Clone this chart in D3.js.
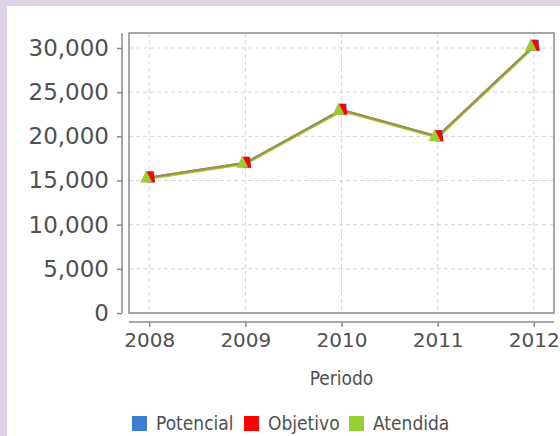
<!DOCTYPE html>
<html><head><meta charset="utf-8">
<script src="https://cdn.jsdelivr.net/npm/d3@7"></script>
<style>
html,body{margin:0;padding:0;background:#dcd3e6;}
svg{display:block;}
</style></head>
<body>
<svg id="chart" width="560" height="436"></svg>
<script>
const categories = ["2008", "2009", "2010", "2011", "2012"];
const potencial = [15350, 17000, 23000, 20000, 30250];
const objetivo  = [15350, 17000, 23000, 20000, 30250];
const atendida  = [15350, 17000, 23000, 20000, 30250];
const yTicks = [0, 5000, 10000, 15000, 20000, 25000, 30000];
const seriesNames = ["Potencial", "Objetivo", "Atendida"];
const seriesColors = ["#3d7ed3", "#ff0000", "#9acd32"];
const xTitle = "Periodo";

const svg = d3.select("#chart");
svg.append("rect").attr("x", 7).attr("y", 6).attr("width", 560).attr("height", 440).attr("fill", "#fff");

const L = 129, R = 554, T = 33, B = 313;
const x = d3.scalePoint().domain(categories).range([L, R]).padding(0.21);
const y = d3.scaleLinear().domain([0, 31700]).range([B, T]);

// grid
const g = svg.append("g");
g.selectAll("line.hg").data(yTicks).join("line")
  .attr("x1", L).attr("x2", R).attr("y1", d => y(d)).attr("y2", d => y(d))
  .attr("stroke", "#d4d4d4").attr("stroke-width", 1).attr("stroke-dasharray", "4,3");
g.selectAll("line.vg").data(categories).join("line")
  .attr("y1", T).attr("y2", B).attr("x1", d => x(d)).attr("x2", d => x(d))
  .attr("stroke", "#d4d4d4").attr("stroke-width", 1).attr("stroke-dasharray", "4,3");

// plot border
svg.append("rect").attr("x", L).attr("y", T).attr("width", R - L).attr("height", B - T)
  .attr("fill", "none").attr("stroke", "#8a8a8a").attr("stroke-width", 1.5);

// y axis
const yAxis = d3.axisLeft(y).tickValues(yTicks).tickSize(5).tickPadding(8)
  .tickFormat(d3.format(","));
const ya = svg.append("g").attr("transform", "translate(122,0)").call(yAxis);
ya.select(".domain").attr("d", `M0,${T}V${B}`).attr("stroke", "#8a8a8a").attr("stroke-width", 1.5);
ya.selectAll(".tick line").attr("stroke", "#8a8a8a").attr("stroke-width", 1.5);
ya.selectAll("text").attr("font-family", "DejaVu Sans").attr("font-size", 23).attr("fill", "#505050");

// x axis
const xAxis = d3.axisBottom(x).tickSize(5).tickPadding(6);
const xa = svg.append("g").attr("transform", "translate(0,322)").call(xAxis);
xa.select(".domain").attr("d", `M${L},0H${R}`).attr("stroke", "#8a8a8a").attr("stroke-width", 1.5);
xa.selectAll(".tick line").attr("stroke", "#8a8a8a").attr("stroke-width", 1.5);
xa.selectAll("text").attr("font-family", "DejaVu Sans").attr("font-size", 20).attr("fill", "#505050");

svg.append("text").attr("x", (L + R) / 2).attr("y", 385).attr("text-anchor", "middle")
  .attr("font-family", "DejaVu Sans Condensed").attr("font-size", 19).attr("fill", "#505050")
  .text(xTitle);

// lines
const line = d3.line().x((d, i) => x(categories[i])).y(d => y(d));
svg.append("path").datum(potencial).attr("d", line).attr("fill", "none")
  .attr("stroke", seriesColors[0]).attr("stroke-width", 2);
svg.append("path").datum(atendida).attr("d", line).attr("fill", "none")
  .attr("transform", "translate(0,0.8)")
  .attr("stroke", seriesColors[2]).attr("stroke-width", 3);
svg.append("path").datum(objetivo).attr("d", line).attr("fill", "none")
  .attr("stroke", "#a88a4c").attr("stroke-width", 2);

// markers
svg.selectAll("rect.mp").data(potencial).join("rect")
  .attr("x", (d, i) => x(categories[i]) - 3).attr("y", d => y(d) - 6)
  .attr("width", 8).attr("height", 11).attr("fill", seriesColors[0]);
svg.selectAll("path.mo").data(objetivo).join("path")
  .attr("d", (d, i) => { const cx = x(categories[i]) + 1, cy = y(d); return `M${cx - 4},${cy - 6}L${cx + 3},${cy - 6}L${cx + 5},${cy + 5}L${cx - 2},${cy + 5}Z`; })
  .attr("fill", seriesColors[1]);
svg.selectAll("path.ma").data(atendida).join("path")
  .attr("d", (d, i) => { const cx = x(categories[i]) - 3, cy = y(d); return `M${cx},${cy - 7}L${cx + 6},${cy + 5}L${cx - 6},${cy + 5}Z`; })
  .attr("fill", seriesColors[2]);

// legend
const legX = [132, 244, 349];
const lg = svg.append("g");
seriesNames.forEach((n, i) => {
  lg.append("rect").attr("x", legX[i]).attr("y", 416).attr("width", 15).attr("height", 15).attr("fill", seriesColors[i]);
  lg.append("text").attr("x", legX[i] + 24).attr("y", 430)
    .attr("font-family", "DejaVu Sans Condensed").attr("font-size", 19).attr("fill", "#505050").text(n);
});
</script>
</body></html>
